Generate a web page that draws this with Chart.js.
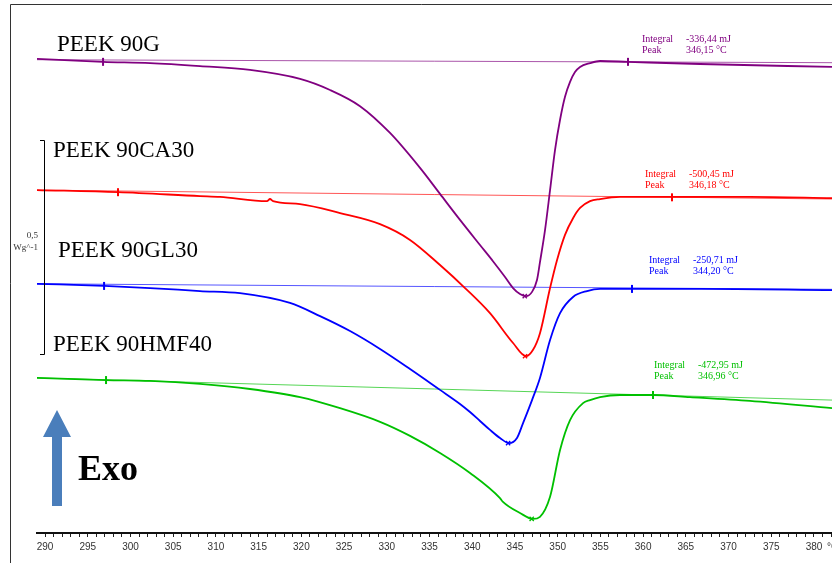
<!DOCTYPE html>
<html lang="en">
<head>
<meta charset="UTF-8">
<title>DSC PEEK</title>
<script src="https://cdn.jsdelivr.net/npm/chart.js"></script>
<style>body{margin:0;background:#fff}</style>
</head>
<body>
<canvas id="dsc" width="832" height="563"></canvas>
<script>
// temperature in °C, heat flow in W/g (curves stacked, exo up)
const tempG = [289.06, 296.79, 302.29, 308.14, 313.99, 319.85, 323.36, 326.87, 330.38, 333.89, 336.23, 338.57, 340.91, 342.43, 343.84, 344.78, 345.59, 346.30, 347.00, 347.58, 347.93, 348.52, 349.11, 349.69, 350.28, 350.86, 351.45, 352.03, 352.62, 353.79, 354.96, 358.23, 366.66, 382.11];
const hfG = [1.113, 1.106, 1.103, 1.096, 1.087, 1.066, 1.040, 1.002, 0.939, 0.857, 0.796, 0.735, 0.676, 0.638, 0.601, 0.575, 0.561, 0.556, 0.566, 0.594, 0.636, 0.711, 0.805, 0.899, 0.970, 1.024, 1.059, 1.082, 1.094, 1.103, 1.108, 1.106, 1.101, 1.094];

const tempCA = [289.06, 298.54, 308.14, 310.48, 315.98, 316.33, 316.69, 319.85, 324.53, 329.21, 332.72, 336.23, 339.16, 342.08, 344.78, 346.30, 347.12, 347.93, 349.11, 349.93, 350.86, 351.80, 352.62, 353.79, 354.96, 357.30, 363.38, 372.51, 382.11];
const hfCA = [0.805, 0.800, 0.791, 0.789, 0.779, 0.784, 0.779, 0.772, 0.751, 0.725, 0.688, 0.629, 0.575, 0.516, 0.446, 0.415, 0.430, 0.469, 0.575, 0.641, 0.700, 0.739, 0.763, 0.779, 0.784, 0.789, 0.789, 0.789, 0.786];

const tempGL = [289.06, 296.91, 302.29, 308.14, 312.82, 318.67, 322.19, 325.70, 329.21, 332.72, 336.23, 338.57, 339.74, 340.91, 342.08, 343.25, 344.31, 345.24, 345.95, 347.00, 347.93, 349.11, 350.28, 351.80, 353.44, 354.96, 358.70, 366.66, 382.11];
const hfGL = [0.585, 0.580, 0.575, 0.568, 0.563, 0.540, 0.509, 0.474, 0.432, 0.385, 0.336, 0.303, 0.284, 0.263, 0.242, 0.223, 0.211, 0.223, 0.258, 0.312, 0.364, 0.453, 0.516, 0.554, 0.568, 0.573, 0.573, 0.573, 0.570];

const tempHMF = [289.06, 297.14, 302.29, 308.14, 313.99, 319.85, 324.53, 329.21, 332.72, 336.23, 339.74, 343.25, 343.60, 345.59, 347.12, 347.93, 349.11, 350.28, 351.45, 352.97, 353.79, 354.96, 357.30, 361.16, 365.49, 372.51, 382.11];
const hfHMF = [0.364, 0.359, 0.357, 0.350, 0.338, 0.319, 0.293, 0.261, 0.228, 0.188, 0.141, 0.082, 0.073, 0.047, 0.033, 0.038, 0.085, 0.195, 0.265, 0.305, 0.312, 0.319, 0.324, 0.324, 0.319, 0.310, 0.293];

// integration baselines (start / end of the drawn line)
const baseT = [289.06, 382.11];
const baseG = [1.111, 1.104];
const baseCA = [0.805, 0.784];
const baseGL = [0.585, 0.572];
const baseHMF = [0.364, 0.312];

// integration limits
const limT_G = [296.79, 358.23], limHF_G = [1.106, 1.106];
const limT_CA = [298.54, 363.38], limHF_CA = [0.800, 0.788];
const limT_GL = [296.91, 358.70], limHF_GL = [0.580, 0.573];
const limT_HMF = [297.14, 361.16], limHF_HMF = [0.359, 0.324];

// peaks
const names = ['PEEK 90G', 'PEEK 90CA30', 'PEEK 90GL30', 'PEEK 90HMF40'];
const integrals = ['-336,44', '-500,45', '-250,71', '-472,95'];
const peakT = [346.15, 346.18, 344.20, 346.96];
const peakHF = [0.556, 0.415, 0.211, 0.033];

const colors = ['#800080', '#ff0000', '#0000ff', '#00c000'];

const pts = (xs, ys) => xs.map((x, i) => ({x: x, y: ys[i]}));

const curves = [[tempG, hfG], [tempCA, hfCA], [tempGL, hfGL], [tempHMF, hfHMF]];
const bases = [baseG, baseCA, baseGL, baseHMF];
const limits = [[limT_G, limHF_G], [limT_CA, limHF_CA], [limT_GL, limHF_GL], [limT_HMF, limHF_HMF]];

const datasets = [];
curves.forEach((c, i) => {
    datasets.push({
        label: names[i] + ' baseline',
        data: pts(baseT, bases[i]),
        showLine: true, borderColor: colors[i] + 'aa', borderWidth: 1, pointRadius: 0
    });
    datasets.push({
        label: names[i],
        data: pts(c[0], c[1]),
        showLine: true, borderColor: colors[i], borderWidth: 1.8, pointRadius: 0,
        cubicInterpolationMode: 'monotone'
    });
    datasets.push({
        label: names[i] + ' limits',
        data: pts(limits[i][0], limits[i][1]),
        showLine: false, pointStyle: 'line', rotation: 90, pointRadius: 4,
        borderColor: colors[i], borderWidth: 2
    });
    datasets.push({
        label: names[i] + ' peak',
        data: [{x: peakT[i], y: peakHF[i]}],
        showLine: false, pointStyle: 'crossRot', pointRadius: 3,
        borderColor: colors[i], borderWidth: 1.3
    });
});

// frame, sample names, scale bar, Exo arrow, result boxes
const decor = {
    id: 'decor',
    afterDraw(chart) {
        const c = chart.ctx;
        c.save();
        c.strokeStyle = '#333';
        c.lineWidth = 1;
        c.beginPath();
        c.moveTo(10.5, 563); c.lineTo(10.5, 4.5); c.lineTo(832, 4.5);
        c.stroke();

        c.fillStyle = '#000';
        c.font = '23px "Liberation Serif"';
        c.textBaseline = 'alphabetic';
        c.fillText(names[0], 57, 51);
        c.fillText(names[1], 53, 157);
        c.fillText(names[2], 58, 257);
        c.fillText(names[3], 53, 351);

        // 0.5 W/g scale bar
        c.strokeStyle = '#000';
        c.beginPath();
        c.moveTo(40, 140.5); c.lineTo(44.5, 140.5); c.lineTo(44.5, 354.5); c.lineTo(40, 354.5);
        c.stroke();
        c.fillStyle = '#333';
        c.font = '9px "Liberation Serif"';
        c.textAlign = 'right';
        c.textBaseline = 'middle';
        c.fillText('0,5', 38, 236);
        c.fillText('Wg^-1', 38, 248);

        // Exo arrow
        c.fillStyle = '#4a7ebb';
        c.beginPath();
        c.moveTo(52, 506); c.lineTo(52, 437); c.lineTo(43, 437); c.lineTo(57, 410);
        c.lineTo(71, 437); c.lineTo(62, 437); c.lineTo(62, 506);
        c.closePath();
        c.fill();
        c.fillStyle = '#000';
        c.font = 'bold 36px "Liberation Serif"';
        c.textAlign = 'left';
        c.textBaseline = 'alphabetic';
        c.fillText('Exo', 78, 480);

        // results
        const boxes = [[642, 39], [645, 174], [649, 260], [654, 365]];
        c.font = '10px "Liberation Serif"';
        c.textBaseline = 'middle';
        boxes.forEach((b, i) => {
            c.fillStyle = colors[i];
            c.fillText('Integral', b[0], b[1]);
            c.fillText(integrals[i] + ' mJ', b[0] + 44, b[1]);
            c.fillText('Peak', b[0], b[1] + 11);
            c.fillText(peakT[i].toFixed(2).replace('.', ',') + ' °C', b[0] + 44, b[1] + 11);
        });

        // unit at the end of the axis
        c.fillStyle = '#333';
        c.font = '10px "Liberation Sans Narrow", "Liberation Sans"';
        c.fillText('°C', 827, 547);
        c.restore();
    }
};

new Chart(document.getElementById('dsc'), {
    type: 'scatter',
    data: {datasets: datasets},
    options: {
        responsive: false,
        animation: false,
        layout: {autoPadding: false, padding: {left: 37, right: 0, top: 4, bottom: 6}},
        plugins: {legend: {display: false}, tooltip: {enabled: false}},
        scales: {
            x: {
                type: 'linear',
                min: 289.06,
                max: 382.11,
                afterBuildTicks: s => { s.ticks = s.ticks.filter(t => Number.isInteger(t.value)); },
                afterFit: s => { s.paddingLeft = 0; s.paddingRight = 0; },
                ticks: {
                    stepSize: 1, includeBounds: false, autoSkip: false, maxRotation: 0, padding: 4, color: '#333',
                    font: {family: '"Liberation Sans Narrow", "Liberation Sans"', size: 10},
                    callback: v => (v % 5 === 0 ? v : '')
                },
                grid: {drawOnChartArea: false, drawTicks: true, tickLength: 4, color: '#222'},
                border: {color: '#111', width: 2}
            },
            y: {display: false, min: 0, max: 1.2418}
        }
    },
    plugins: [decor]
});
</script>
</body>
</html>
